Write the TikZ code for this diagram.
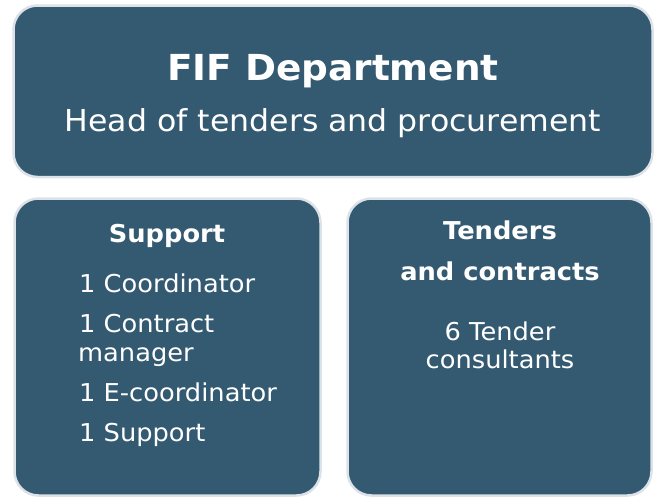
\documentclass[tikz,border=0pt]{standalone}
\usepackage{fontspec}
\setmainfont{DejaVu Sans}[FakeStretch=1.045]
\definecolor{boxfill}{RGB}{52,90,114}
\definecolor{boxedge}{RGB}{220,226,232}
\begin{document}
\begin{tikzpicture}[x=1pt,y=-1pt,
  panel/.style={fill=boxfill,draw=boxedge,line width=2.5pt,rounded corners=24pt},
  txt/.style={text=white,inner sep=0pt,anchor=base},
  big/.style={font=\bfseries\fontsize{35.8}{40}\selectfont},
  mid/.style={font=\fontsize{30.2}{36}\selectfont},
  small/.style={font=\fontsize{24.6}{29}\selectfont},
  smallb/.style={font=\bfseries\fontsize{24.6}{29}\selectfont}]
\useasboundingbox (0,0) rectangle (654,498);
\draw[panel] (13.5,5.5) rectangle (652.5,177);
\draw[panel] (14.5,198.5) rectangle (320.5,495.5);
\draw[panel] (347.5,198.5) rectangle (651.5,495.5);
\node[txt,big] (title) at (333,80) {FIF Department};
\node[txt,mid] (sub) at (333,131) {Head of tenders and procurement};
\node[txt,smallb] (sup) at (167,242) {Support};
\node[txt,anchor=base west,small] (l1) at (79,292) {1 Coordinator};
\node[txt,anchor=base west,small] (l2) at (79,332) {1 Contract};
\node[txt,anchor=base west,small] (l3) at (78,361) {manager};
\node[txt,anchor=base west,small] (l4) at (79,401) {1 E-coordinator};
\node[txt,anchor=base west,small] (l5) at (79,441) {1 Support};
\node[txt,smallb] (t1) at (500,239) {Tenders};
\node[txt,smallb] (t2) at (500,280) {and contracts};
\node[txt,small] (t3) at (500,340) {6 Tender};
\node[txt,small] (t4) at (500,368) {consultants};
\end{tikzpicture}
\end{document}
